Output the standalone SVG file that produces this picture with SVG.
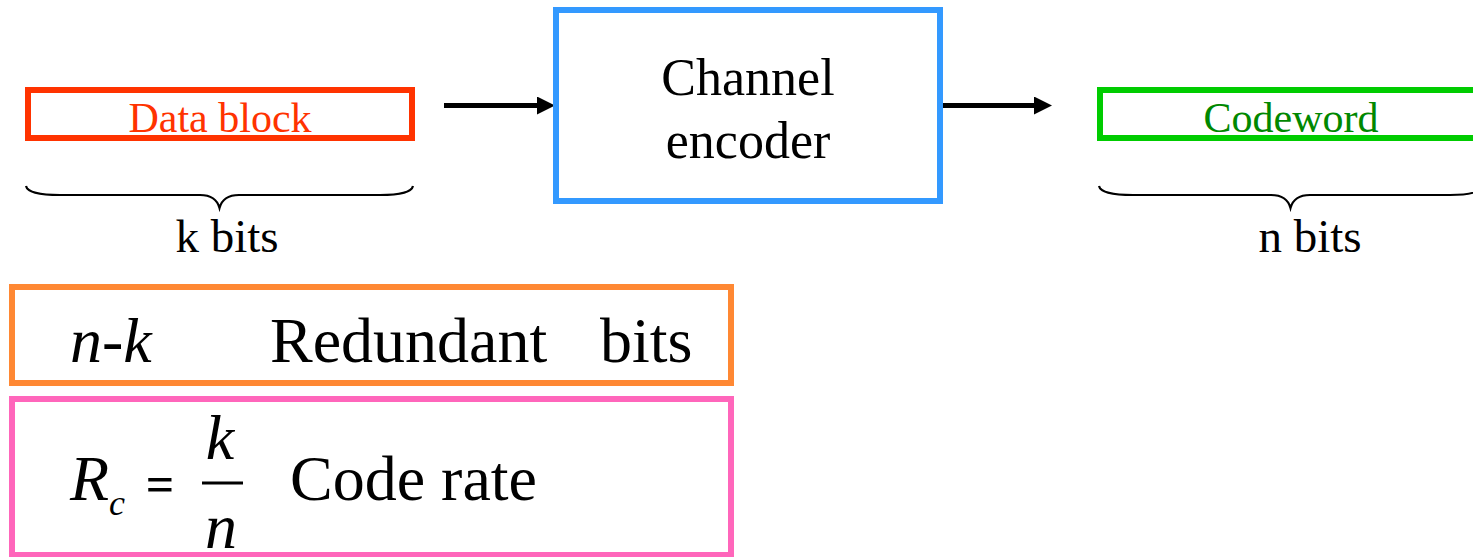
<svg xmlns="http://www.w3.org/2000/svg" width="1473" height="557" viewBox="0 0 1473 557">
<style>
text{font-family:'Liberation Serif','Times New Roman',serif;fill:#000}
.i{font-style:italic}
.box{fill:#fff;stroke-width:6}
.brace{fill:none;stroke:#000;stroke-width:2.2}
.conn{stroke:#000;stroke-width:5;fill:none}
</style>
<defs>
<marker id="ah" markerWidth="18" markerHeight="18" refX="8" refY="9" orient="auto" markerUnits="userSpaceOnUse">
<path d="M0,0 L18,9 L0,18 z" fill="#000"/>
</marker>
</defs>
<rect width="1473" height="557" fill="#fff"/>
<g id="connectors">
<line class="conn" x1="444" y1="105.5" x2="545" y2="105.5" marker-end="url(#ah)"/>
<line class="conn" x1="941" y1="105.5" x2="1042" y2="105.5" marker-end="url(#ah)"/>
</g>
<g id="data-block">
<rect class="box" x="28" y="90" width="384" height="48" stroke="#FF3300"/>
<text x="220" y="132" font-size="42" text-anchor="middle" style="fill:#FF3300">Data block</text>
</g>
<g id="k-bits">
<path class="brace" d="M26,186 Q28,195 60,195 L200,195 Q216,195 219.5,208 Q223,195 239,195 L380,195 Q411,195 413,186"/>
<text x="227" y="252" font-size="47" text-anchor="middle">k bits</text>
</g>
<g id="channel-encoder">
<rect class="box" x="556" y="10" width="384" height="191" stroke="#3399FF"/>
<text x="748" y="95" font-size="52" text-anchor="middle">Channel</text>
<text x="748" y="158" font-size="52" text-anchor="middle">encoder</text>
</g>
<g id="codeword">
<rect class="box" x="1100" y="90" width="384" height="48" stroke="#00CC00"/>
<text x="1291" y="132" font-size="42" text-anchor="middle" style="fill:#008800">Codeword</text>
</g>
<g id="n-bits">
<path class="brace" d="M1099,186 Q1101,195 1133,195 L1271,195 Q1287,195 1290.5,208 Q1294,195 1310,195 L1450,195 Q1480,195 1482,186"/>
<text x="1310" y="252" font-size="47" text-anchor="middle">n bits</text>
</g>
<g id="redundant">
<rect class="box" x="12" y="287" width="719" height="96" stroke="#FF8833"/>
<text class="i" x="70" y="362" font-size="64">n-k</text>
<text x="270" y="362" font-size="64">Redundant</text>
<text x="600" y="362" font-size="64">bits</text>
</g>
<g id="code-rate">
<rect class="box" x="12" y="399" width="719" height="156" stroke="#FF66BB"/>
<text class="i" x="70" y="500" font-size="64">R</text>
<text class="i" x="109" y="515" font-size="36">c</text>
<text x="160" y="501" font-size="50" font-weight="bold" text-anchor="middle">=</text>
<text class="i" x="220" y="459" font-size="64" text-anchor="middle">k</text>
<line x1="202" y1="483" x2="243" y2="483" stroke="#000" stroke-width="2.8"/>
<text class="i" x="221" y="548" font-size="64" text-anchor="middle">n</text>
<text x="290" y="500" font-size="64">Code rate</text>
</g>
</svg>
